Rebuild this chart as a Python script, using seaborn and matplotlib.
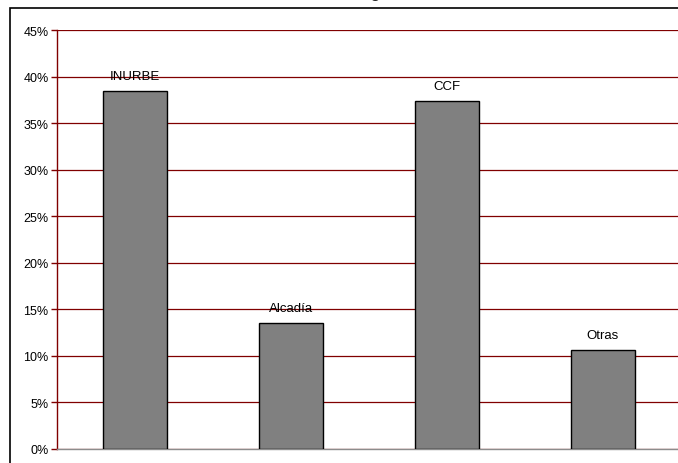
import matplotlib
matplotlib.use("Agg")
import matplotlib.pyplot as plt
import seaborn as sns
import pandas as pd
from matplotlib.patches import Rectangle
from matplotlib.ticker import PercentFormatter, MultipleLocator

categories = ["INURBE", "Alcadía", "CCF", "Otras"]
values = [0.3845, 0.1355, 0.3735, 0.1065]
title_text = "Entidad otorgante"

df = pd.DataFrame({"cat": categories, "val": values})

sns.set_style("white")
plt.rcParams['font.family'] = ['Liberation Sans', 'DejaVu Sans']

W, H = 678, 464
fig = plt.figure(figsize=(W / 100, H / 100), dpi=100)
ax = fig.add_axes([57 / W, (H - 450) / H, (681 - 57) / W, (450 - 31) / H])
ax.patch.set_alpha(0)

# outer frame
fig.patches.append(Rectangle((10 / W, -0.1), 1.2, (H - 9) / H + 0.1,
                             transform=fig.transFigure, fill=False,
                             edgecolor="black", linewidth=1.2, zorder=0))

sns.barplot(data=df, x="cat", y="val", ax=ax, color="#808080",
            edgecolor="black", linewidth=1.0, width=0.41, saturation=1,
            zorder=3)

ax.set_ylim(0, 0.45)
ax.set_xlim(-0.5, 3.5)
ax.yaxis.set_major_locator(MultipleLocator(0.05))
ax.yaxis.set_major_formatter(PercentFormatter(1.0, decimals=0))
ax.set_xlabel("")
ax.set_ylabel("")
ax.set_xticks([])

ax.grid(axis="y", color="#800000", linewidth=0.9, zorder=0)
ax.set_axisbelow(True)
for s in ["top", "right"]:
    ax.spines[s].set_visible(False)
ax.spines["left"].set_color("#800000")
ax.spines["left"].set_linewidth(1.0)
ax.spines["bottom"].set_color("#8C8C8C")
ax.spines["bottom"].set_linewidth(1.0)
ax.tick_params(axis="y", direction="out", length=4, width=1, color="#800000",
               labelsize=9, labelcolor="black", pad=2, left=True)

ax.bar_label(ax.containers[0], labels=categories, padding=6.5, fontsize=9.5,
             color="black")

fig.text(344.5 / W, (H + 3) / H, title_text, ha="center", va="baseline",
         fontsize=13)

fig.savefig("out.png", dpi=100)
